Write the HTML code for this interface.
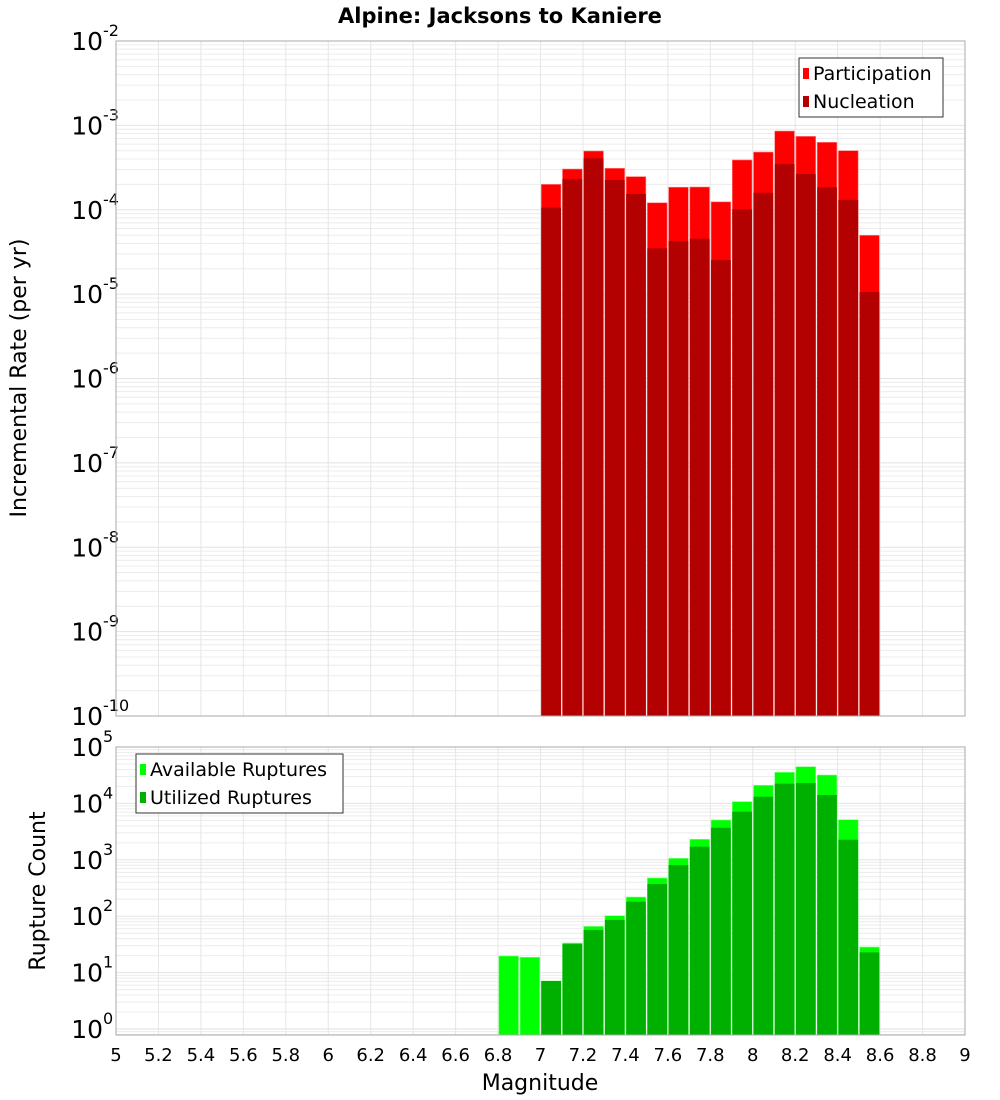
<!DOCTYPE html>
<html><head><meta charset="utf-8"><style>
body{margin:0;background:#fff;font-family:"DejaVu Sans","Liberation Sans",sans-serif}
svg{display:block}
</style></head><body>
<svg id="c" width="1000" height="1100" xmlns="http://www.w3.org/2000/svg">
<text x="500" y="23" text-anchor="middle" font-size="21" font-weight="bold">Alpine: Jacksons to Kaniere</text>
<text transform="translate(26,378) rotate(-90)" text-anchor="middle" font-size="22">Incremental Rate (per yr)</text>
<text transform="translate(45,891) rotate(-90)" text-anchor="middle" font-size="22">Rupture Count</text>
<text x="540" y="1090" text-anchor="middle" font-size="22">Magnitude</text>
<g id="top"></g><g id="bot"></g>
</svg>
<script>
const magBins=[7.0,7.1,7.2,7.3,7.4,7.5,7.6,7.7,7.8,7.9,8.0,8.1,8.2,8.3,8.4,8.5];
const participation=[2.0e-4,3.04e-4,4.97e-4,3.10e-4,2.47e-4,1.21e-4,1.85e-4,1.86e-4,1.24e-4,3.89e-4,4.83e-4,8.57e-4,7.41e-4,6.30e-4,5.01e-4,4.98e-5];
const nucleation=[1.06e-4,2.31e-4,4.07e-4,2.25e-4,1.54e-4,3.49e-5,4.26e-5,4.54e-5,2.54e-5,1.01e-4,1.59e-4,3.48e-4,2.65e-4,1.85e-4,1.31e-4,1.06e-5];
const countBins=[6.8,6.9,7.0,7.1,7.2,7.3,7.4,7.5,7.6,7.7,7.8,7.9,8.0,8.1,8.2,8.3,8.4,8.5];
const available=[19.7,18.7,7.1,33.5,66,102,219,476,1062,2309,5080,10740,20940,35570,44740,31870,5140,28.4];
const utilized=[0,0,7.1,32,57,86,181,372,809,1709,3707,7130,13150,22370,23000,14090,2270,22.9];
const xTicks=[5,5.2,5.4,5.6,5.8,6,6.2,6.4,6.6,6.8,7,7.2,7.4,7.6,7.8,8,8.2,8.4,8.6,8.8,9];
const topExp=[-2,-3,-4,-5,-6,-7,-8,-9,-10];
const botExp=[5,4,3,2,1,0];
const NS="http://www.w3.org/2000/svg";
const X0=116,X1=965;
const x=v=>X0+(v-5)/4*(X1-X0);
function el(p,t,a){const e=document.createElementNS(NS,t);for(const k in a)e.setAttribute(k,a[k]);p.appendChild(e);return e;}
function panel(g,top,bot,lmax,lmin,labelExps,name){
  const y=v=>top+(lmax-Math.log10(v))/(lmax-lmin)*(bot-top);
  const bg=el(g,'rect',{x:X0,y:top,width:X1-X0,height:bot-top,fill:'#fff'});
  
  
  for(let e=Math.floor(lmin);e<lmax;e++)for(let m=1;m<10;m++){
    const v=m*Math.pow(10,e);const yy=y(v);if(yy<top||yy>bot)continue;
    const l=el(g,'line',{x1:X0,x2:X1,y1:yy,y2:yy,stroke:m==1?'#e2e2e2':'#ececec','stroke-width':1});
    
    
  }
  xTicks.forEach(t=>{const l=el(g,'line',{x1:x(t),x2:x(t),y1:top,y2:bot,stroke:'#e6e6e6'});
    
    });
  labelExps.forEach(e=>{const yy=y(Math.pow(10,e));
    const t=el(g,'text',{x:103,y:yy+9,'text-anchor':'end','font-size':25});t.textContent='10';
    
    
    const s=el(g,'text',{x:103,y:yy-5,'font-size':16});s.textContent=String(e);
    
    });
  return y;
}
const gt=document.getElementById('top'),gb=document.getElementById('bot');
const yT=panel(gt,41,716,-2,-10,topExp,'top');
const bw=(x(5.1)-x(5))-1.5;
magBins.forEach((m,i)=>{
  const p=el(gt,'rect',{x:x(m)+0.75,y:yT(participation[i]),width:bw,height:716-yT(participation[i]),fill:'#ff0000',stroke:'#ff8080','stroke-width':0.6});
  
  
  const n=el(gt,'rect',{x:x(m)+0.75,y:yT(nucleation[i]),width:bw,height:716-yT(nucleation[i]),fill:'#b30000'});
  
  
});
const f1=el(gt,'rect',{x:X0,y:41,width:X1-X0,height:675,fill:'none',stroke:'#aaa'});


const yB=panel(gb,747,1035,5,-0.106,botExp,'bottom');
countBins.forEach((m,i)=>{
  const a=el(gb,'rect',{x:x(m)+0.75,y:yB(available[i]),width:bw,height:1035-yB(available[i]),fill:'#00ff00',stroke:'#80ff80','stroke-width':0.6});
  
  
  if(utilized[i]>0){const u=el(gb,'rect',{x:x(m)+0.75,y:yB(utilized[i]),width:bw,height:1035-yB(utilized[i]),fill:'#00b000'});
  
  }
});
const f2=el(gb,'rect',{x:X0,y:747,width:X1-X0,height:288,fill:'none',stroke:'#aaa'});


xTicks.forEach(t=>{const tx=el(gb,'text',{x:x(t),y:1061,'text-anchor':'middle','font-size':18});tx.textContent=String(t);
  
  });
function legend(g,bx,by,w,items,name){
  const r=el(g,'rect',{x:bx,y:by,width:w,height:59,fill:'#fff',stroke:'#333'});
  
  
  items.forEach((it,i)=>{
    const s=el(g,'rect',{x:bx+4,y:by+10+i*28,width:6,height:11,fill:it[1]});
    
    
    const t=el(g,'text',{x:bx+14,y:by+22+i*28,'font-size':19});t.textContent=it[0];
    
    
  });
}
legend(gt,799,58,144,[['Participation','#ff0000'],['Nucleation','#b30000']],'top-legend');
legend(gb,136,754,207,[['Available Ruptures','#00ff00'],['Utilized Ruptures','#00b000']],'bottom-legend');
</script>
</body></html>
